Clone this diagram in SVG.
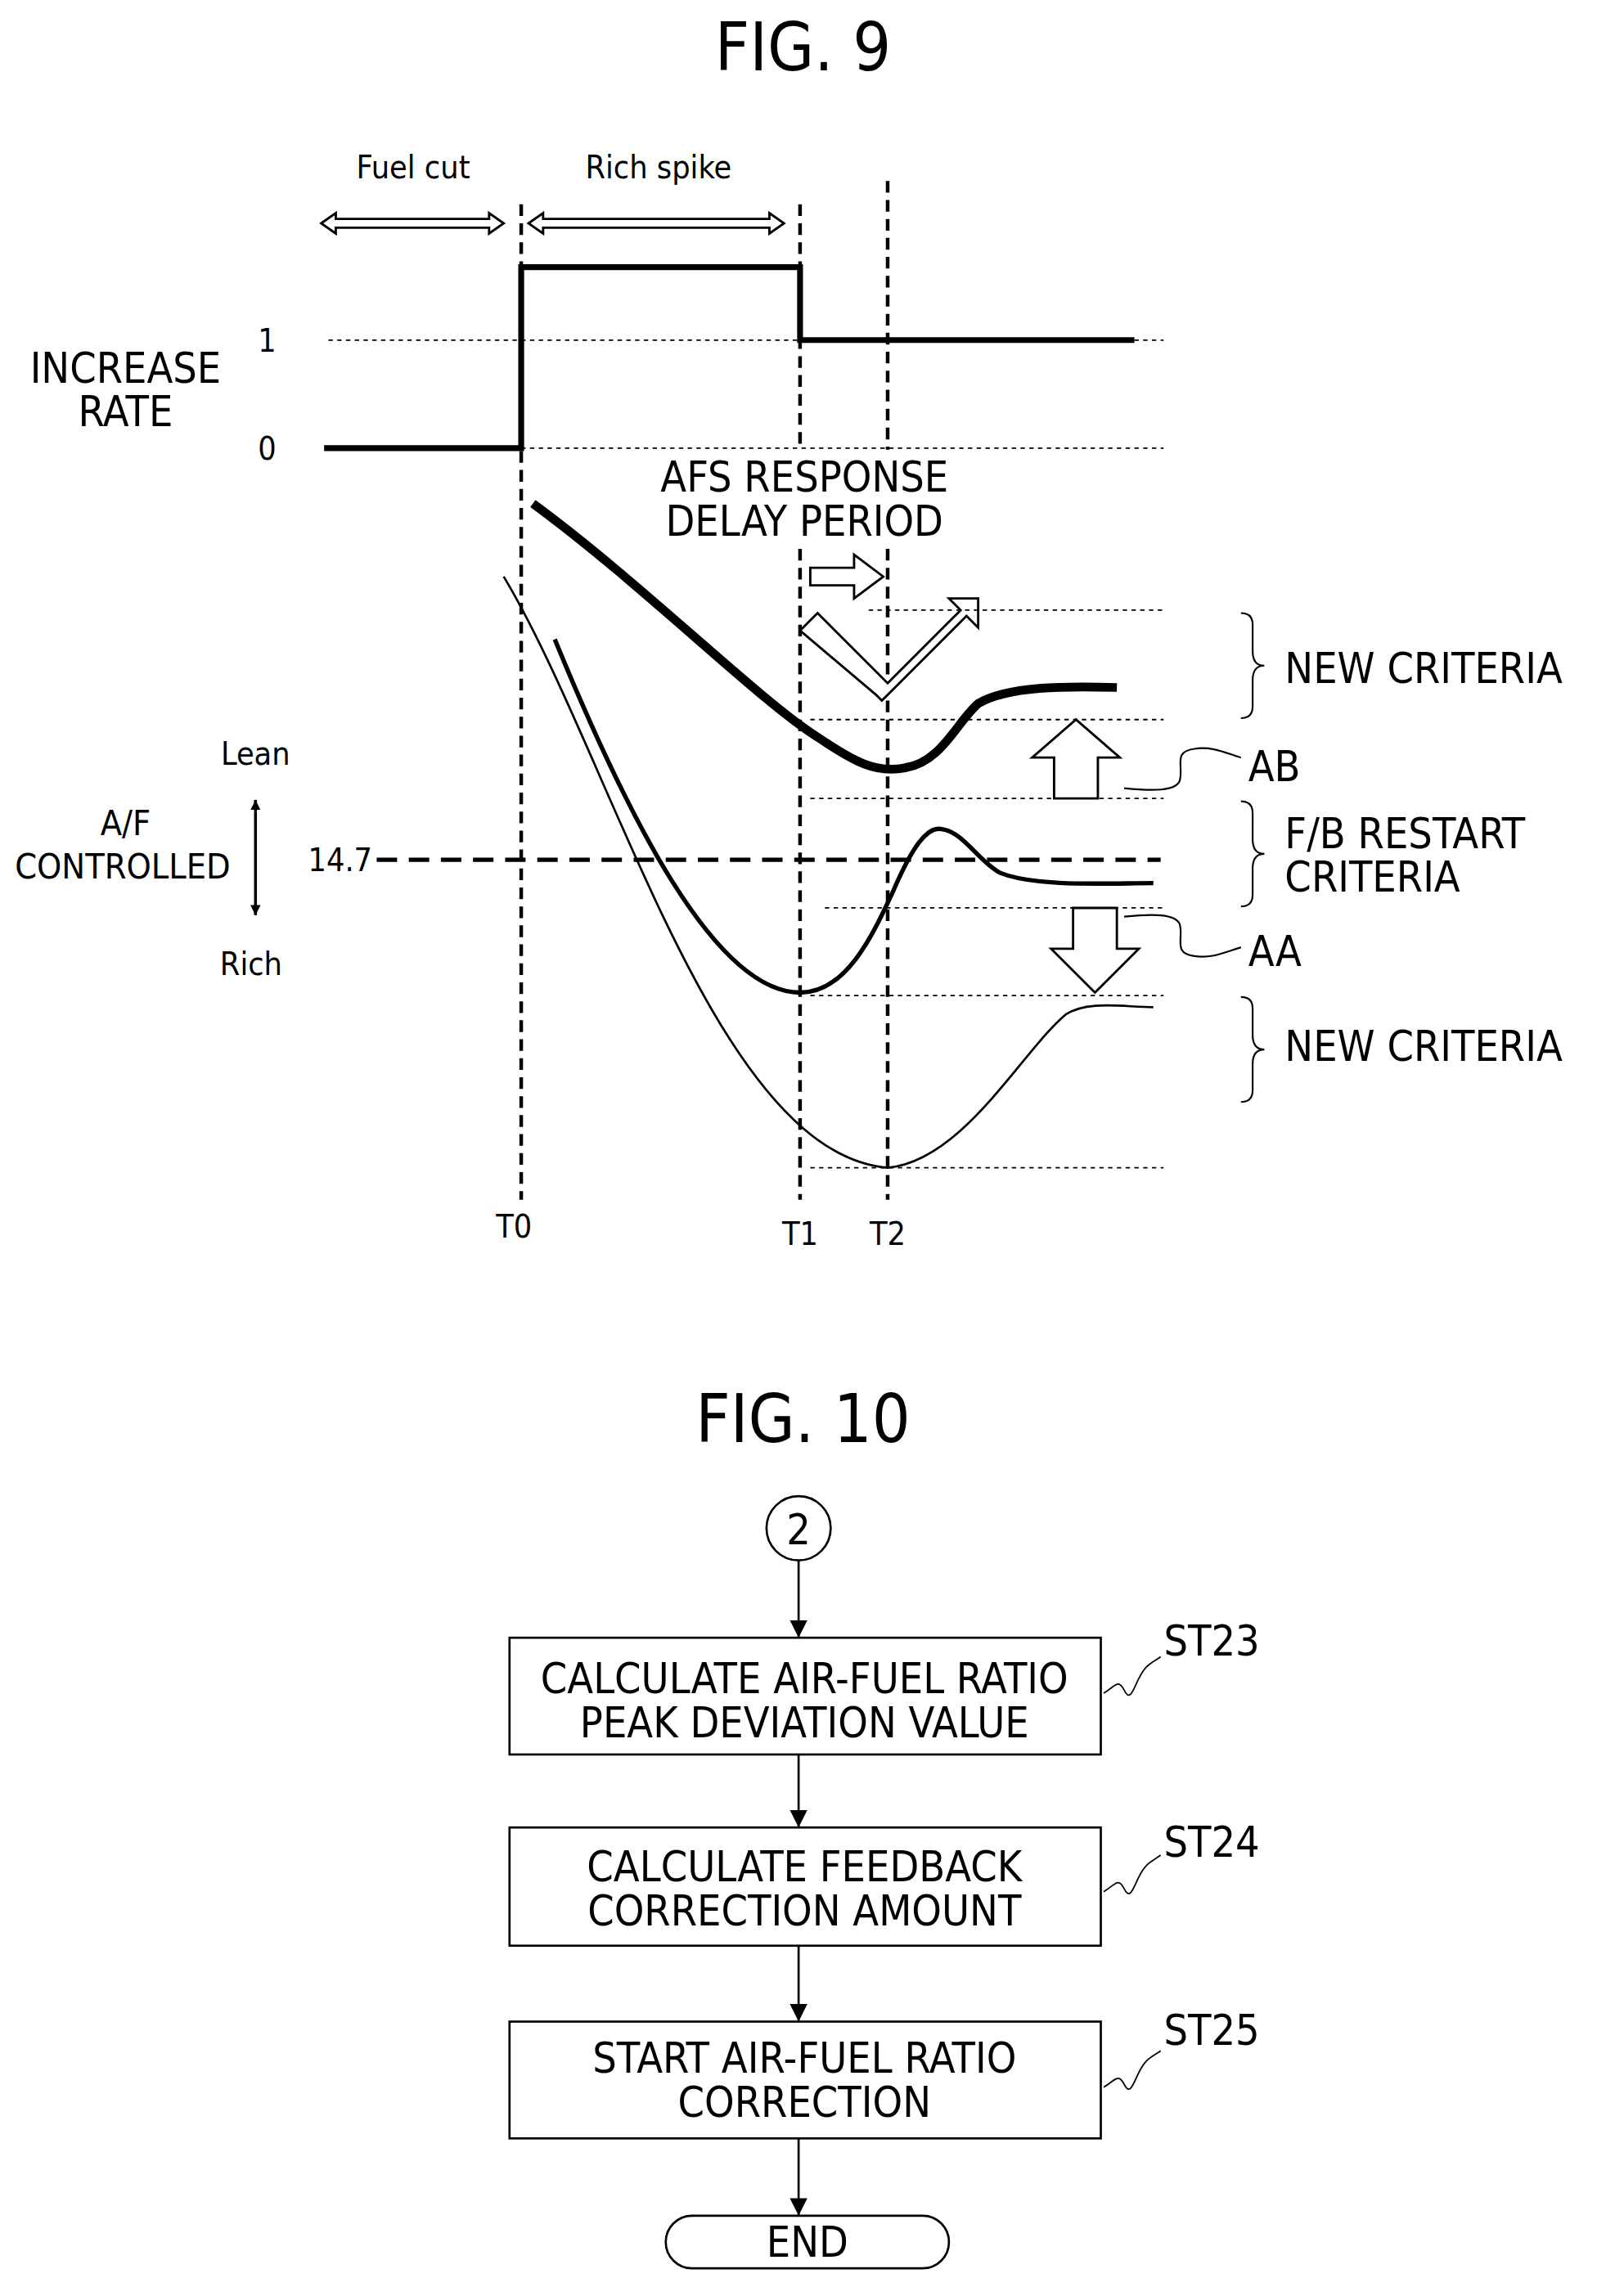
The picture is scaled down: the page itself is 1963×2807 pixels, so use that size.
<svg xmlns="http://www.w3.org/2000/svg" width="1963" height="2807" viewBox="0 0 1963 2807">
<style>
text{font-family:"DejaVu Sans Condensed","DejaVu Sans",sans-serif;fill:#000}
.t{font-size:29px}
.s{font-size:22px}
.title{font-size:46px}
.ln{fill:none;stroke:#000}
.dot{fill:none;stroke:#000;stroke-width:1;stroke-dasharray:3 3}
.vd{fill:none;stroke:#000;stroke-width:2.5;stroke-dasharray:8 5}
.hol{fill:#fff;stroke:#000;stroke-width:1.6;stroke-linejoin:miter}
</style>
<defs>
<marker id="ah" viewBox="0 0 10 10" refX="10" refY="5" markerWidth="7" markerHeight="7" orient="auto" markerUnits="userSpaceOnUse"><path d="M0,0L10,5L0,10z"/></marker>
<marker id="ah2" viewBox="0 0 10 10" refX="10" refY="5" markerWidth="12" markerHeight="12" orient="auto" markerUnits="userSpaceOnUse"><path d="M0,0L10,5L0,10z"/></marker>
</defs>
<rect width="1963" height="2807" fill="#fff"/>
<g transform="scale(1.7845)">
<g id="fig9">
<text class="title" x="550" y="48" text-anchor="middle">FIG. 9</text>
<text class="s" x="283" y="122" text-anchor="middle">Fuel cut</text>
<text class="s" x="451" y="122" text-anchor="middle">Rich spike</text>
<path class="hol" d="M220,153 l10,-7 v4 h105 v-4 l10,7 l-10,7 v-4 h-105 v4z"/>
<path class="hol" d="M362,153 l10,-7 v4 h155 v-4 l10,7 l-10,7 v-4 h-155 v4z"/>
<line class="vd" x1="357" y1="140" x2="357" y2="822"/>
<line class="vd" x1="548" y1="140" x2="548" y2="308"/>
<line class="vd" x1="548" y1="376" x2="548" y2="822"/>
<line class="vd" x1="608" y1="124" x2="608" y2="308"/>
<line class="vd" x1="608" y1="376" x2="608" y2="822"/>
<line class="dot" x1="225" y1="233" x2="797" y2="233"/>
<line class="dot" x1="225" y1="307" x2="797" y2="307"/>
<path class="ln" stroke-width="4" d="M222,307H357V183H548V233H777"/>
<text class="s" x="183" y="241" text-anchor="middle">1</text>
<text class="s" x="183" y="315" text-anchor="middle">0</text>
<text class="t" x="86" y="262" text-anchor="middle">INCREASE</text>
<text class="t" x="86" y="292" text-anchor="middle">RATE</text>
<text class="t" x="551" y="337" text-anchor="middle">AFS RESPONSE</text>
<text class="t" x="551" y="367" text-anchor="middle">DELAY PERIOD</text>
<path class="hol" d="M555,389 h30 v-9 l20,15 l-20,15 v-9 h-30z"/>
<path class="hol" d="M548,432 l12,-12 l48,48 l50,-50 l-8,-8 l20,0 l0,20 l-8,-8 l-54,54 l-4,4 l-4,-4z"/>
<line class="dot" x1="595" y1="418" x2="797" y2="418"/>
<line class="dot" x1="555" y1="493" x2="797" y2="493"/>
<line class="dot" x1="555" y1="547" x2="797" y2="547"/>
<line class="dot" x1="565" y1="622" x2="797" y2="622"/>
<line class="dot" x1="555" y1="682" x2="797" y2="682"/>
<line class="dot" x1="555" y1="800" x2="797" y2="800"/>
<path class="ln" stroke-width="6" d="M365,345 C440,400 520,480 560,505 C585,522 600,530 620,526 C645,522 655,495 670,482 C690,470 730,470 765,471"/>
<path class="ln" stroke-width="3" d="M380,438 C430,560 490,680 548,680 C580,680 598,640 612,610 C625,580 635,566 645,568 C660,570 670,590 685,598 C710,608 760,605 790,605"/>
<path class="ln" stroke-width="1.5" d="M345,395 C420,520 490,790 608,800 C660,795 700,720 730,695 C745,685 770,690 790,690"/>
<line x1="258" y1="589" x2="795" y2="589" stroke="#000" stroke-width="3" stroke-dasharray="14 8"/>
<text class="s" x="233" y="597" text-anchor="middle">14.7</text>
<text class="s" x="175" y="524" text-anchor="middle">Lean</text>
<text class="s" x="172" y="668" text-anchor="middle">Rich</text>
<text x="86" y="572" text-anchor="middle" font-size="24">A/F</text>
<text x="84" y="602" text-anchor="middle" font-size="24">CONTROLLED</text>
<line class="ln" stroke-width="2" x1="175" y1="556" x2="175" y2="548" marker-end="url(#ah)"/>
<line class="ln" stroke-width="2" x1="175" y1="556" x2="175" y2="627" marker-end="url(#ah)"/>
<path class="ln" stroke-width="1.2" d="M850,420 q8,0 8,8 v18 q0,10 8,10 q-8,0 -8,10 v18 q0,8 -8,8"/>
<text class="t" x="880" y="468">NEW CRITERIA</text>
<path class="ln" stroke-width="1.2" d="M850,549 q8,0 8,8 v18 q0,10 8,10 q-8,0 -8,10 v18 q0,8 -8,8"/>
<text class="t" x="880" y="581">F/B RESTART</text>
<text class="t" x="880" y="611">CRITERIA</text>
<path class="ln" stroke-width="1.2" d="M850,683 q8,0 8,8 v18 q0,10 8,10 q-8,0 -8,10 v18 q0,8 -8,8"/>
<text class="t" x="880" y="727">NEW CRITERIA</text>
<path class="hol" d="M722,547 v-28 h-15 l30,-26 l30,26 h-15 v28z"/>
<path class="hol" d="M735,622 v28 h-15 l30,30 l30,-30 h-15 v-28z"/>
<path class="ln" stroke-width="1.2" d="M770,540 c20,2 35,2 38,-5 c3,-10 -5,-20 10,-22 c12,-2 22,3 32,6"/>
<text class="t" x="855" y="535">AB</text>
<path class="ln" stroke-width="1.2" d="M770,628 c20,-2 35,-2 38,5 c3,10 -5,20 10,22 c12,2 22,-3 32,-6"/>
<text class="t" x="855" y="662">AA</text>
<text class="s" x="352" y="848" text-anchor="middle">T0</text>
<text class="s" x="548" y="853" text-anchor="middle">T1</text>
<text class="s" x="608" y="853" text-anchor="middle">T2</text>
</g>
<text class="title" x="550" y="988" text-anchor="middle">FIG. 10</text>
<g id="n2"><circle cx="547" cy="1047" r="22" fill="#fff" stroke="#000" stroke-width="1.5"/><text class="t" x="547" y="1058" text-anchor="middle">2</text></g>
<g id="st23"><rect x="349" y="1122" width="405" height="80" fill="#fff" stroke="#000" stroke-width="1.5"/>
<text class="t" x="551" y="1160" text-anchor="middle">CALCULATE AIR-FUEL RATIO</text>
<text class="t" x="551" y="1190" text-anchor="middle">PEAK DEVIATION VALUE</text>
<path class="ln" stroke-width="1" d="M756,1160 c8,-5 10,-10 14,-2 c4,8 6,0 10,-8 c5,-10 8,-10 15,-15"/>
<text class="t" x="830" y="1134" text-anchor="middle">ST23</text></g>
<g id="st24"><rect x="349" y="1252" width="405" height="81" fill="#fff" stroke="#000" stroke-width="1.5"/>
<text class="t" x="551" y="1289" text-anchor="middle">CALCULATE FEEDBACK</text>
<text class="t" x="551" y="1319" text-anchor="middle">CORRECTION AMOUNT</text>
<path class="ln" stroke-width="1" d="M756,1296 c8,-5 10,-10 14,-2 c4,8 6,0 10,-8 c5,-10 8,-10 15,-15"/>
<text class="t" x="830" y="1272" text-anchor="middle">ST24</text></g>
<g id="st25"><rect x="349" y="1385" width="405" height="80" fill="#fff" stroke="#000" stroke-width="1.5"/>
<text class="t" x="551" y="1420" text-anchor="middle">START AIR-FUEL RATIO</text>
<text class="t" x="551" y="1450" text-anchor="middle">CORRECTION</text>
<path class="ln" stroke-width="1" d="M756,1430 c8,-5 10,-10 14,-2 c4,8 6,0 10,-8 c5,-10 8,-10 15,-15"/>
<text class="t" x="830" y="1401" text-anchor="middle">ST25</text></g>
<g id="end"><rect x="456" y="1518" width="194" height="36" rx="18" fill="#fff" stroke="#000" stroke-width="1.5"/>
<text class="t" x="553" y="1546" text-anchor="middle">END</text></g>
<g id="connectors" stroke="#000" stroke-width="1.5">
<line x1="547" y1="1069" x2="547" y2="1122" marker-end="url(#ah2)"/>
<line x1="547" y1="1202" x2="547" y2="1252" marker-end="url(#ah2)"/>
<line x1="547" y1="1333" x2="547" y2="1385" marker-end="url(#ah2)"/>
<line x1="547" y1="1465" x2="547" y2="1518" marker-end="url(#ah2)"/>
</g>
</g>
</svg>
